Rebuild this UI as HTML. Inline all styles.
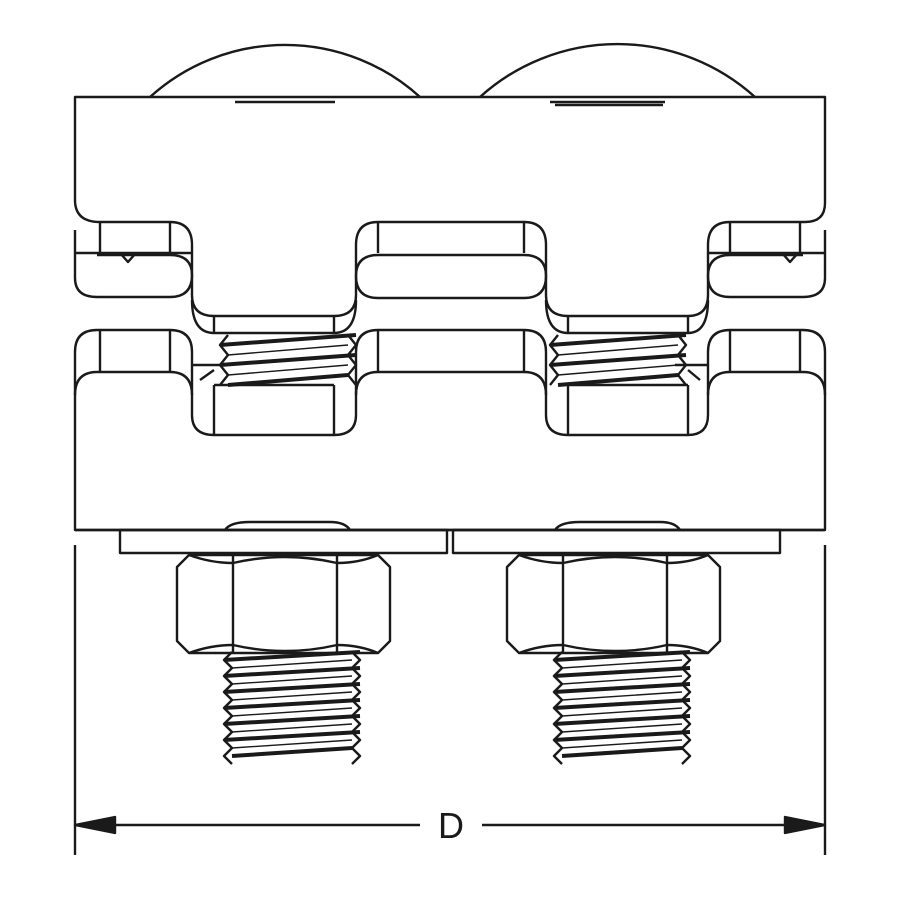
<!DOCTYPE html>
<html><head><style>html,body{margin:0;padding:0;background:#fff}svg{display:block}</style></head>
<body>
<svg width="900" height="900" viewBox="0 0 900 900" xmlns="http://www.w3.org/2000/svg" fill="none" stroke="#1a1a1a" stroke-width="2.4" stroke-linejoin="round">
<defs>
<g id="thr">
  <path d="M0,0 l-8,8 8,8 -8,8 8,8 -8,8 8,8 -8,8 8,8 -8,8 8,8 -8,8 8,8 -8,8 8,8"/>
  <path d="M120,0 l8,8 -8,8 8,8 -8,8 8,8 -8,8 8,8 -8,8 8,8 -8,8 8,8 -8,8 8,8 -8,8"/>
  <path d="M-8,8 L128,0 M-8,24 L128,16 M-8,40 L128,32 M-8,56 L128,48 M-8,72 L128,64 M-8,88 L128,80 M0,104 L120,96" stroke-width="4"/>
  <path d="M0,16 L120,8 M0,32 L120,24 M0,48 L120,40 M0,64 L120,56 M0,80 L120,72 M0,96 L120,88" stroke-width="1.4"/>
</g>
<g id="thrS">
  <path d="M0,0 l-8,10 8,10 -8,10 8,10 -8,10"/>
  <path d="M120,0 l8,10 -8,10 8,10 -8,10 8,10"/>
  <path d="M-8,10 L128,0 M-8,30 L128,20 M0,50 L120,40" stroke-width="4"/>
  <path d="M0,20 L120,10 M0,40 L120,30" stroke-width="1.4"/>
</g>
<g id="nut">
  <path d="M0,12 L12,0 L201,0 L213,12 L213,86 L201,98 L12,98 L0,86 Z"/>
  <path d="M56,0 L56,98 M160,0 L160,98"/>
  <path d="M12,0 Q34,8 56,8 M160,8 Q182,8 201,0 M56,8 Q108,-4 160,8"/>
  <path d="M12,98 Q34,90 56,90 M160,90 Q182,90 201,98 M56,90 Q108,102 160,90"/>
</g>
</defs>
<!-- domes -->
<path d="M150,97 A201,201 0 0 1 420,97"/>
<path d="M480,97 A205,205 0 0 1 755,97"/>
<!-- upper body -->
<path d="M75,200 L75,97 L825,97 L825,203 Q825,222 805,222 L730,222 Q708,222 708,245 L708,295 Q708,316 688,316 L568,316 Q546,316 546,295 L546,245 Q546,222 524,222 L378,222 Q356,222 356,245 L356,295 Q356,316 334,316 L214,316 Q192,316 192,295 L192,245 Q192,222 170,222 L100,222 Q75,222 75,200"/>
<path d="M235,102 L335,102 M550,102 L665,102 M555,105 L663,105"/>
<!-- upper tabs -->
<path d="M100,222 L100,253 M170,222 L170,253 M75,253 L192,253 M120,253 L128,262 L136,253"/>
<path d="M75,230 L75,278 Q75,297 97,297 L170,297 Q192,297 192,275 Q192,255 170,255 L97,255"/>
<path d="M378,222 L378,253 M524,222 L524,253"/>
<path d="M378,255 L524,255 Q546,255 546,276 Q546,298 524,298 L378,298 Q356,298 356,276 Q356,255 378,255Z"/>
<path d="M730,222 L730,253 M800,222 L800,253 M708,253 L825,253 M782,253 L790,262 L798,253"/>
<path d="M825,230 L825,278 Q825,297 803,297 L730,297 Q708,297 708,276 Q708,255 730,255 L803,255"/>
<!-- notch inner strips -->
<path d="M214,316 L214,333 M334,316 L334,333 M192,300 Q192,333 214,333 L334,333 Q356,333 356,300"/>
<path d="M568,316 L568,333 M688,316 L688,333 M546,300 Q546,333 568,333 L688,333 Q708,333 708,300"/>
<!-- lower body -->
<path d="M75,530 L75,395 Q75,372 97,372 L170,372 Q192,372 192,395 L192,415 Q192,435 214,435 L334,435 Q356,435 356,415 L356,395 Q356,372 378,372 L524,372 Q546,372 546,395 L546,415 Q546,435 568,435 L688,435 Q708,435 708,415 L708,395 Q708,372 730,372 L803,372 Q825,372 825,395 L825,530 Z"/>
<path d="M75,395 L75,352 Q75,330 97,330 L170,330 Q192,330 192,352 L192,395 M100,330 L100,372 M170,330 L170,372"/>
<path d="M378,330 L524,330 Q546,330 546,352 L546,395 M356,395 L356,352 Q356,330 378,330 M378,330 L378,372 M524,330 L524,372"/>
<path d="M708,395 L708,352 Q708,330 730,330 L803,330 Q825,330 825,352 L825,395 M730,330 L730,372 M800,330 L800,372"/>
<path d="M214,385 L214,435 M334,385 L334,435 M214,385 L334,385 M192,365 L225,365 M200,380 L214,370"/>
<path d="M568,385 L568,435 M688,385 L688,435 M568,385 L688,385 M675,365 L708,365 M688,370 L700,380"/>
<use href="#thrS" x="228" y="335"/>
<use href="#thrS" x="558" y="335"/>
<!-- washers -->
<path d="M75,530 L825,530"/>
<rect x="120" y="530" width="327" height="23"/>
<rect x="453" y="530" width="327" height="23"/>
<path d="M225,530 Q230,522 250,522 L330,522 Q345,522 350,530 M555,530 Q560,522 580,522 L660,522 Q675,522 680,530"/>
<!-- nuts -->
<use href="#nut" x="177" y="555"/>
<use href="#nut" x="507" y="555"/>
<use href="#thr" x="232" y="652"/>
<use href="#thr" x="562" y="652"/>
<!-- dimension -->
<path d="M75,545 L75,855 M825,545 L825,855"/>
<path d="M110,825 L420,825 M482,825 L790,825"/>
<path d="M75,825 L115,817 L115,833 Z M825,825 L785,817 L785,833 Z" fill="#1a1a1a"/>
<text x="451" y="838" font-family="Liberation Sans, sans-serif" font-size="36" fill="#1a1a1a" stroke="none" text-anchor="middle">D</text>
</svg>
</body></html>
